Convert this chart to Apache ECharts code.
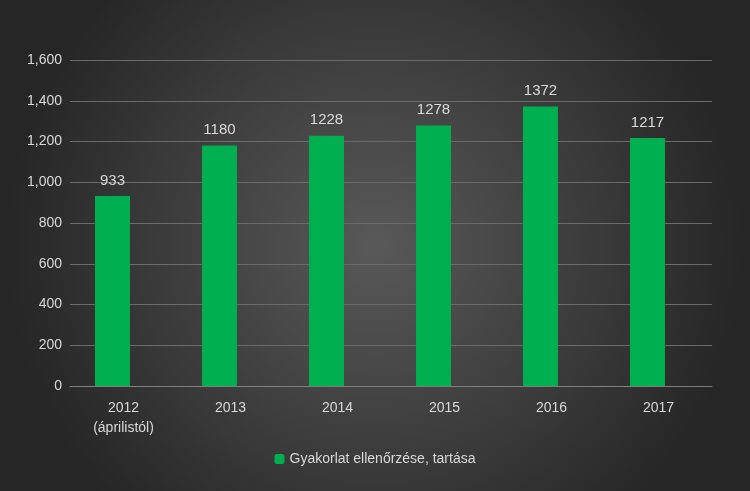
<!DOCTYPE html>
<html><head><meta charset="utf-8">
<script src="https://cdn.jsdelivr.net/npm/echarts@6/dist/echarts.min.js"></script>
<style>html,body{margin:0;padding:0;}#c{width:750px;height:491px;}</style>
</head><body><div id="c"></div>
<script>
var categories = ['2012\n(áprilistól)', '2013', '2014', '2015', '2016', '2017'];
var values = [933, 1180, 1228, 1278, 1372, 1217];
var seriesName = 'Gyakorlat ellenőrzése, tartása';

var chart = echarts.init(document.getElementById('c'));
chart.setOption({
    backgroundColor: {
        type: 'radial', x: 0.5, y: 0.5, r: 0.75,
        colorStops: [{ offset: 0, color: '#595959' }, { offset: 1, color: '#262626' }]
    },
    textStyle: { fontFamily: 'Liberation Sans, Arial, sans-serif' },
    grid: { left: 70, right: 38, top: 60, bottom: 105 },
    legend: {
        data: [seriesName], bottom: 20, itemWidth: 10, itemHeight: 10,
        textStyle: { color: '#d9d9d9', fontSize: 14 }
    },
    xAxis: {
        type: 'category', data: categories,
        axisLine: { lineStyle: { color: '#7f7f7f' } },
        axisTick: { show: false },
        axisLabel: { color: '#d9d9d9', fontSize: 14, lineHeight: 20, margin: 12 }
    },
    yAxis: {
        type: 'value', min: 0, max: 1600, interval: 200,
        axisLine: { show: false }, axisTick: { show: false },
        axisLabel: { color: '#d9d9d9', fontSize: 14, margin: 8 },
        splitLine: { lineStyle: { color: '#6b6b6b' } }
    },
    series: [
        {
            name: seriesName, type: 'bar', data: values, barWidth: 35, barGap: '-37%',
            itemStyle: { color: '#00b050' },
            label: { show: true, position: 'top', color: '#d9d9d9', fontSize: 15, distance: 8 }
        },
        { name: 'empty', type: 'bar', data: [null, null, null, null, null, null], barWidth: 35 }
    ]
});
</script></body></html>
